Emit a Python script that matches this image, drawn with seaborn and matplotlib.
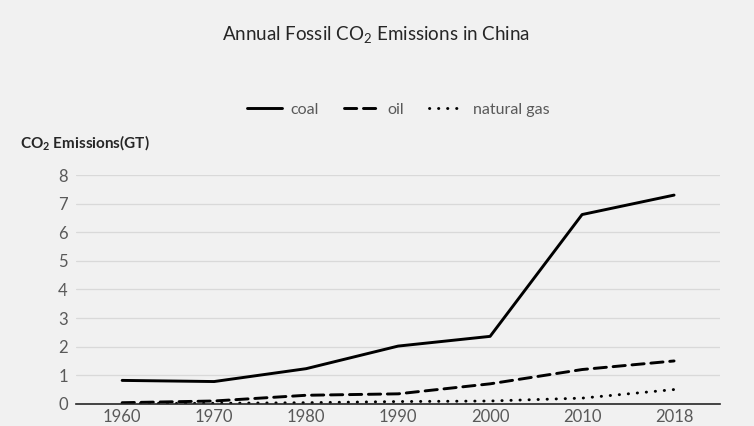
import pandas as pd
import matplotlib.pyplot as plt
import seaborn as sns

# dados
anos = ["1960", "1970", "1980", "1990", "2000", "2010", "2018"]
carvao = [0.82, 0.78, 1.23, 2.02, 2.36, 6.62, 7.30]
petroleo = [0.04, 0.10, 0.30, 0.35, 0.70, 1.20, 1.50]
gas = [0.01, 0.02, 0.04, 0.08, 0.10, 0.20, 0.50]
yticks = [0, 1, 2, 3, 4, 5, 6, 7, 8]

df = pd.DataFrame({
    "ano": anos * 3,
    "valor": carvao + petroleo + gas,
    "fonte": ["coal"] * 7 + ["oil"] * 7 + ["natural gas"] * 7,
})

sns.set_theme(style="white")
plt.rcParams["font.family"] = ["Lato", "DejaVu Sans"]
plt.rcParams["mathtext.fontset"] = "custom"
plt.rcParams["mathtext.rm"] = "Lato"
plt.rcParams["mathtext.bf"] = "Lato:bold"
plt.rcParams["lines.dash_capstyle"] = "round"

bg = "#f1f1f1"
fig = plt.figure(figsize=(7.54, 4.26), dpi=100, facecolor=bg)
ax = fig.add_axes([0.101, 0.052, 0.854, 0.537], facecolor=bg)

sns.lineplot(
    data=df, x="ano", y="valor", style="fonte",
    dashes={"coal": "", "oil": (4.2, 2.3), "natural gas": (0.1, 3.0)},
    color="black", linewidth=2.1, ax=ax, legend=True, sort=False,
)

ax.set_xlim(-0.5, 6.5)
ax.set_ylim(0, 8)
ax.set_yticks(yticks)
ax.grid(axis="y", color="#d9d9d9", linewidth=0.9)
ax.set_axisbelow(True)
for s in ["top", "right", "left"]:
    ax.spines[s].set_visible(False)
ax.spines["bottom"].set_color("#262626")
ax.spines["bottom"].set_linewidth(1.2)
ax.set_xticks([i - 0.5 for i in range(8)], minor=True)
ax.tick_params(axis="x", which="minor", length=5, color="#262626", width=1)
ax.tick_params(axis="x", which="major", length=0, pad=4)
ax.tick_params(axis="both", labelsize=12, labelcolor="#595959")
ax.tick_params(axis="y", length=0, pad=6)
ax.set_xlabel("")
ax.set_ylabel("")

handles, labels = ax.get_legend_handles_labels()
ax.legend(handles, labels, loc="center", bbox_to_anchor=(0.528, 0.742),
          bbox_transform=fig.transFigure, ncol=3, frameon=False,
          fontsize=11.5, labelcolor="#595959", handlelength=2.2,
          columnspacing=1.6, handletextpad=0.5)

fig.text(0.499, 0.918, r"Annual Fossil CO$_2$ Emissions in China",
         ha="center", va="center", fontsize=13.5, color="#262626")
fig.text(0.026, 0.663, r"CO$_\mathbf{2}$ Emissions(GT)", ha="left", va="center",
         fontsize=11, fontweight="bold", color="#262626")

fig.savefig("out.png", dpi=100, facecolor=bg)
